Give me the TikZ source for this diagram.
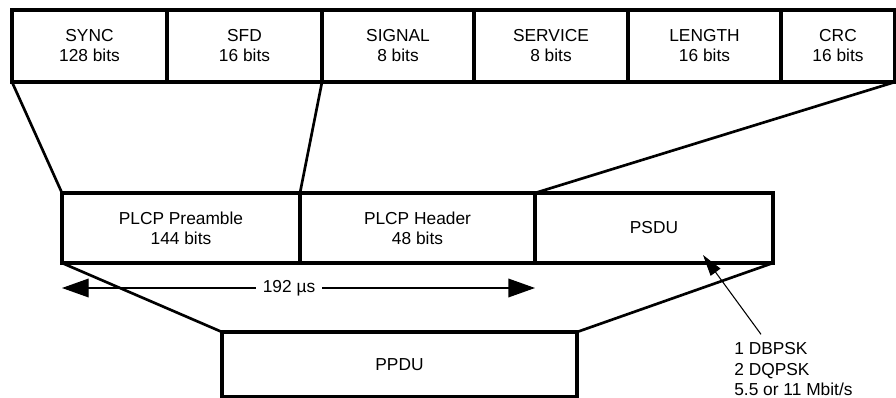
\documentclass[tikz,border=0pt]{standalone}
\usepackage{fontspec}
\setmainfont{Liberation Sans}
\usetikzlibrary{arrows.meta}
\tikzset{
  every picture/.style={line width=2pt},
  cell/.style={draw, line width=3pt, outer sep=0pt, inner sep=0pt, align=center, font=\fontsize{13}{15}\selectfont},
  link/.style={line width=2pt},
  span/.style={{Triangle[length=20pt, width=14pt]}-{Triangle[length=20pt, width=14pt]}, line width=1pt},
  pointer/.style={-{Triangle[length=16pt, width=9pt]}, line width=0.8pt},
  note/.style={align=left, inner sep=0pt, font=\fontsize{13}{15.5}\selectfont},
}

\begin{document}
\begin{tikzpicture}[x=0.75pt, y=-0.75pt]
  \useasboundingbox (0,0) rectangle (896,398);
  % PLCP fields
  \foreach \n/\t/\b/\xa/\xb in {sync/SYNC/128/12/167, sfd/SFD/16/167/322, sig/SIGNAL/8/322/474,
                                 serv/SERVICE/8/474/628, len/LENGTH/16/628/781, crc/CRC/16/781/895}
    \node[cell, minimum width={(\xb-\xa)*0.75pt}, minimum height=54pt] (\n) at ({(\xa+\xb)/2},46) {\t\\\b~bits};
  % PPDU parts
  \node[cell, minimum width=178.5pt, minimum height=52.5pt] (pre) at (181,228) {PLCP Preamble\\144 bits};
  \node[cell, minimum width=176.25pt, minimum height=52.5pt] (hdr) at (417.5,228) {PLCP Header\\48 bits};
  \node[cell, minimum width=178.5pt, minimum height=52.5pt] (psdu) at (654,228) {PSDU};
  \node[cell, minimum width=266.25pt, minimum height=48.75pt] (ppdu) at (399.5,364.5) {PPDU};
  % expansion lines
  \draw[link] (sync.south west) -- (pre.north west);
  \draw[link] (sfd.south east) -- (pre.north east);
  \draw[link] (crc.south east) -- (psdu.north west);
  \draw[link] (pre.south west) -- (ppdu.north west);
  \draw[link] (psdu.south east) -- (ppdu.north east);
  % duration
  \draw[span] ([yshift=-18.75pt]pre.south west) -- node[pos=0.48, fill=white, inner xsep=5pt, font=\fontsize{13}{15}\selectfont] {192 µs} ([yshift=-18.75pt]hdr.south east);
  % modulation note
  \node[note, anchor=north west] (mod) at (733,341) {1 DBPSK\\2 DQPSK\\5.5 or 11 Mbit/s};
  \coordinate (tip) at (703,255);
  \draw[pointer] ([shift={(21pt,5pt)}]mod.north west) -- (tip);
\end{tikzpicture}
\end{document}
